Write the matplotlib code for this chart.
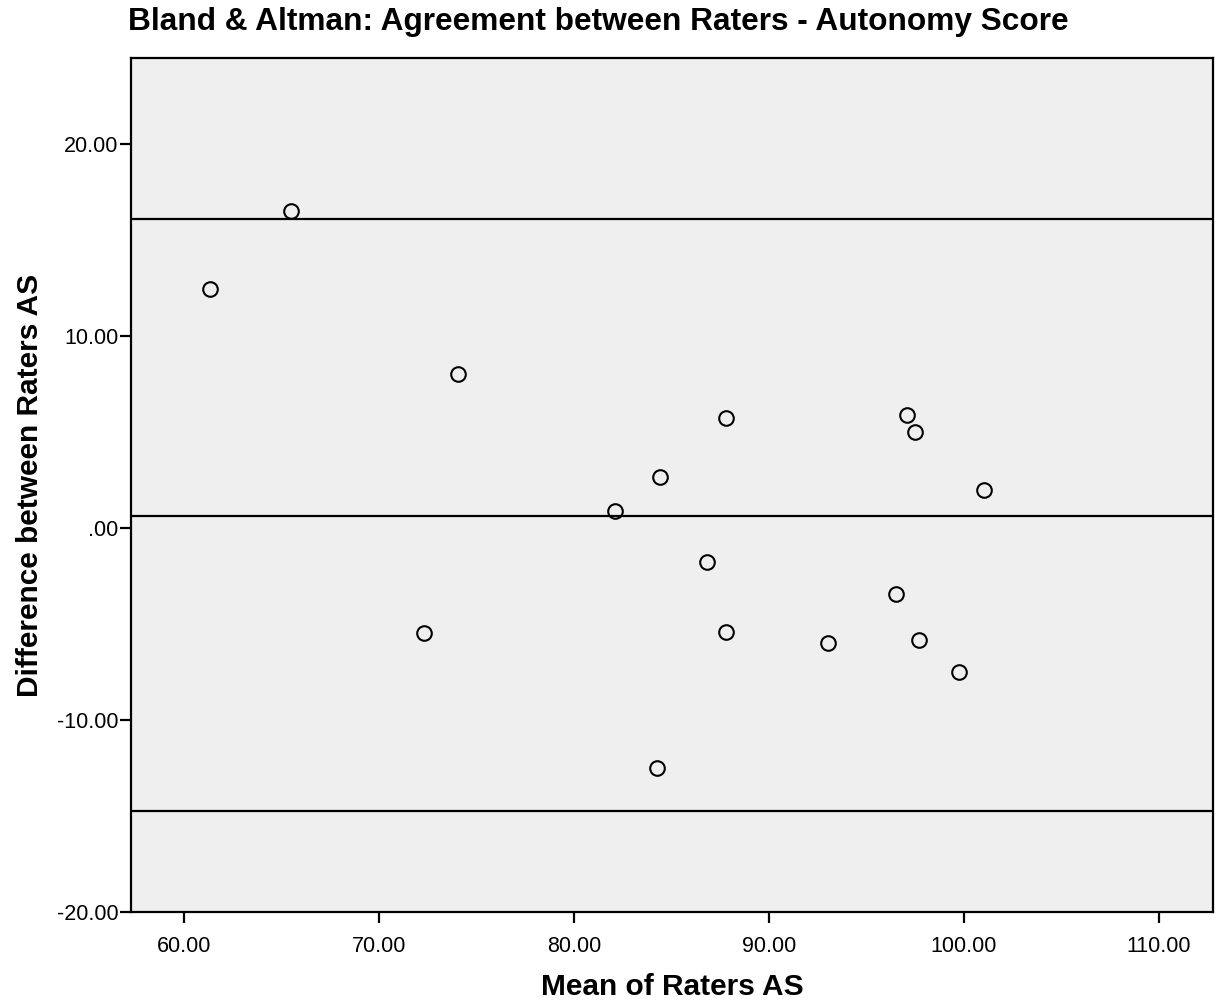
import matplotlib
matplotlib.use("Agg")
import matplotlib.pyplot as plt

mean_scores = [65.49, 61.33, 74.05, 87.79, 97.08, 97.49, 84.41, 101.03, 82.10,
               86.82, 96.51, 72.31, 87.79, 93.03, 97.69, 99.74, 84.26]
differences = [16.54, 12.47, 8.03, 5.74, 5.89, 5.01, 2.66, 1.98, 0.89,
               -1.77, -3.44, -5.48, -5.43, -6.00, -5.84, -7.51, -12.52]
ref_lines = [16.12, 0.63, -14.76]
x_ticks = [60, 70, 80, 90, 100, 110]
y_ticks = [-20, -10, 0, 10, 20]
y_tick_labels = ["-20.00", "-10.00", ".00", "10.00", "20.00"]

plt.rcParams['font.family'] = ['Liberation Sans', 'DejaVu Sans']

fig = plt.figure(figsize=(12.16, 10.01), dpi=100)
ax = fig.add_axes([131/1216, 89/1001, (1213-131)/1216, (912-58)/1001])
ax.set_facecolor('#efefef')

for v in ref_lines:
    ax.axhline(v, color='black', linewidth=1.6, zorder=2)

ax.plot(mean_scores, differences, linestyle='none', marker='o', markersize=10.5,
        markerfacecolor='none', markeredgecolor='black', markeredgewidth=1.5, zorder=3)

ax.set_xlim(57.28, 112.77)
ax.set_ylim(-20, 24.5)
ax.set_xticks(x_ticks)
ax.set_xticklabels([f"{v:.2f}" for v in x_ticks])
ax.set_yticks(y_ticks)
ax.set_yticklabels(y_tick_labels)
ax.tick_params(axis='both', direction='out', length=8, width=1.6, labelsize=15.5, colors='black')
ax.tick_params(axis='x', pad=9)
ax.tick_params(axis='y', pad=1)
for s in ax.spines.values():
    s.set_linewidth(1.6)

fig.text(672/1216, 1 - 987/1001, 'Mean of Raters AS', fontsize=21.5, fontweight='bold',
         ha='center', va='center')
fig.text(30/1216, 1 - 485/1001, 'Difference between Raters AS', fontsize=21.5, fontweight='bold',
         ha='center', va='center', rotation=90)
fig.text(128/1216, 1 - 22/1001, 'Bland & Altman: Agreement between Raters - Autonomy Score',
         fontsize=22.8, fontweight='bold', ha='left', va='center')

fig.savefig('out.png', dpi=100)
